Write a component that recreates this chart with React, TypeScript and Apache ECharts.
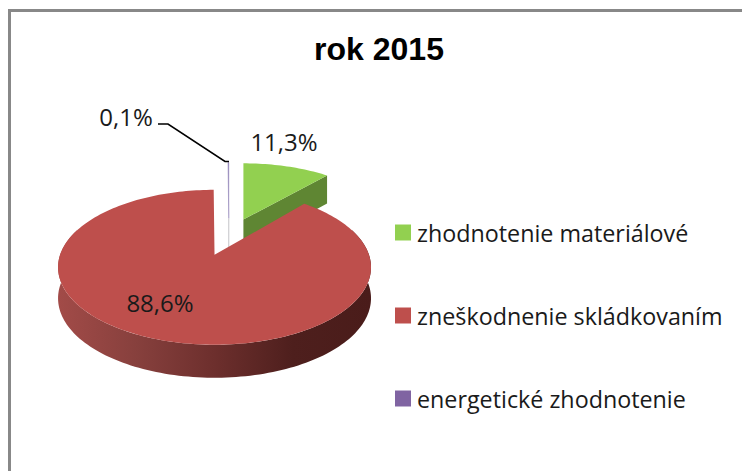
import React, { useEffect, useRef } from "react";
import * as echarts from "echarts";

const titleText = "rok 2015";
const categories = ["zhodnotenie materiálové", "zneškodnenie skládkovaním", "energetické zhodnotenie"];
const values = [11.3, 88.6, 0.1];
const valueLabels = ["11,3%", "88,6%", "0,1%"];
const topColors = ["#92D050", "#BE4F4C", "#8D7FB5"];
const labelAnchors = [[284, 141], [160, 302], [126, 116]];
const leaderLine = [[158, 124], [168, 124], [225, 161.5], [229, 161.5]];

// Projection of the tilted pie plane onto the page
const ORIGIN_X = 215;
const ORIGIN_Y = 255;
const SCALE_X = 154.5;
const SCALE_Y = 75.5;
const TILT = 0.161;
const DEPTH = 30.6;
const DEPTH_TILT = 0.073;
const EXPLODE = 0.27;
const CENTER_U = 0.09;
const CENTER_V = 0.256;

const rad = (deg: number) => (deg * Math.PI) / 180;

function sliceAngles(index: number): number[] {
  const total = values.reduce((a, b) => a + b, 0);
  const before = values.slice(0, index).reduce((a, b) => a + b, 0);
  return [(before / total) * 360, ((before + values[index]) / total) * 360];
}

function pointAt(index: number, deg: number, radius: number, lower = false): number[] {
  const [a, b] = sliceAngles(index);
  const mid = rad((a + b) / 2);
  const offU = CENTER_U + EXPLODE * Math.sin(mid);
  const u = radius * Math.sin(rad(deg));
  const v = CENTER_V + EXPLODE * Math.cos(mid) + radius * Math.cos(rad(deg));
  const w = 1 + TILT * v;
  const x = ORIGIN_X + SCALE_X * offU + (SCALE_X * u) / w;
  const y = ORIGIN_Y - (SCALE_Y * v) / w;
  return [x, lower ? y + DEPTH / (1 + DEPTH_TILT * v) : y];
}

function arcPoints(index: number, from: number, to: number, lower = false): number[][] {
  const steps = Math.max(2, Math.ceil(Math.abs(to - from) / 1.5));
  const pts: number[][] = [];
  for (let i = 0; i <= steps; i++) {
    pts.push(pointAt(index, from + ((to - from) * i) / steps, 1, lower));
  }
  return pts;
}

function poly(points: number[][], fill: any, extra: any = {}) {
  return { type: "polygon", shape: { points }, style: { fill, ...extra }, silent: true };
}

function label(index: number) {
  return {
    type: "text",
    style: {
      text: valueLabels[index],
      x: labelAnchors[index][0],
      y: labelAnchors[index][1],
      align: "center",
      verticalAlign: "middle",
      fill: "#1a1a1a",
      font: "24px 'Open Sans'",
    },
    silent: true,
  };
}

function renderGreen() {
  const [a, b] = sliceAngles(0);
  const apex = pointAt(0, a, 0);
  const apexLow = pointAt(0, a, 0, true);
  const edge = pointAt(0, b, 1);
  const edgeLow = pointAt(0, b, 1, true);
  return {
    type: "group",
    children: [
      poly([apex, edge, edgeLow, apexLow], "#5F8633"),
      poly([apex, ...arcPoints(0, a, b)], topColors[0]),
    ],
  };
}

function renderRed() {
  const [a, b] = sliceAngles(1);
  const wallTop = arcPoints(1, 70, 290);
  const wallLow = arcPoints(1, 70, 290, true).reverse();
  return {
    type: "group",
    children: [
      poly([...wallTop, ...wallLow], {
        type: "linear", x: 0, y: 0, x2: 1, y2: 0,
        colorStops: [
          { offset: 0, color: "#A24B48" },
          { offset: 0.25, color: "#87403D" },
          { offset: 0.5, color: "#6D2F2D" },
          { offset: 0.75, color: "#4E1F1D" },
          { offset: 1, color: "#4A1C1A" },
        ],
      }),
      poly([pointAt(1, a, 0), ...arcPoints(1, a, b)], topColors[1]),
    ],
  };
}

function renderPurple() {
  const [a, b] = sliceAngles(2);
  const apex = pointAt(2, a, 0);
  const apexLow = pointAt(2, a, 0, true);
  return {
    type: "group",
    children: [
      poly([apex, ...arcPoints(2, a, b)], topColors[2], { stroke: topColors[2], lineWidth: 0.5 }),
      { type: "line", shape: { x1: apex[0], y1: apex[1], x2: apexLow[0], y2: apexLow[1] }, style: { stroke: "#C4C4C8", lineWidth: 1 }, silent: true },
      { type: "polyline", shape: { points: leaderLine }, style: { stroke: "#000", lineWidth: 1.6, fill: "none" }, silent: true },
    ],
  };
}

const renderers = [renderGreen, renderRed, renderPurple];

export default function App() {
  const ref = useRef<HTMLDivElement>(null);
  useEffect(() => {
    document.body.style.margin = "0";
    const chart = echarts.init(ref.current!, undefined, { renderer: "svg" });
    chart.setOption({
      animation: false,
      backgroundColor: "#fff",
      title: {
        text: titleText,
        left: 379,
        top: 33,
        textAlign: "center",
        padding: 0,
        textStyle: { fontFamily: "'Liberation Sans'", fontWeight: "bold", fontSize: 32, color: "#000" },
      },
      legend: {
        orient: "vertical",
        left: 395,
        top: 221,
        padding: 0,
        itemWidth: 16,
        itemHeight: 16,
        itemGap: 60,
        icon: "rect",
        data: categories,
        selectedMode: false,
        textStyle: { fontFamily: "'Open Sans'", fontSize: 23.3, color: "#1a1a1a", padding: [0, 0, 0, 1] },
      },
      graphic: [
        { type: "rect", shape: { x: 8, y: 9, width: 734, height: 3 }, style: { fill: "#888" }, silent: true },
        { type: "rect", shape: { x: 8, y: 9, width: 3, height: 462 }, style: { fill: "#888" }, silent: true },
      ],
      series: categories.map((name, i) => ({
        type: "custom",
        name,
        coordinateSystem: "none",
        z: i === 1 ? 4 : 3,
        itemStyle: { color: i === 2 ? "#8064A2" : topColors[i] },
        data: [values[i]],
        renderItem: () => ({
          type: "group",
          children: [renderers[i](), label(i)],
        }),
      })),
    });
    return () => chart.dispose();
  }, []);
  return <div ref={ref} style={{ position: "fixed", left: 0, top: 0, width: 742, height: 471 }} />;
}
